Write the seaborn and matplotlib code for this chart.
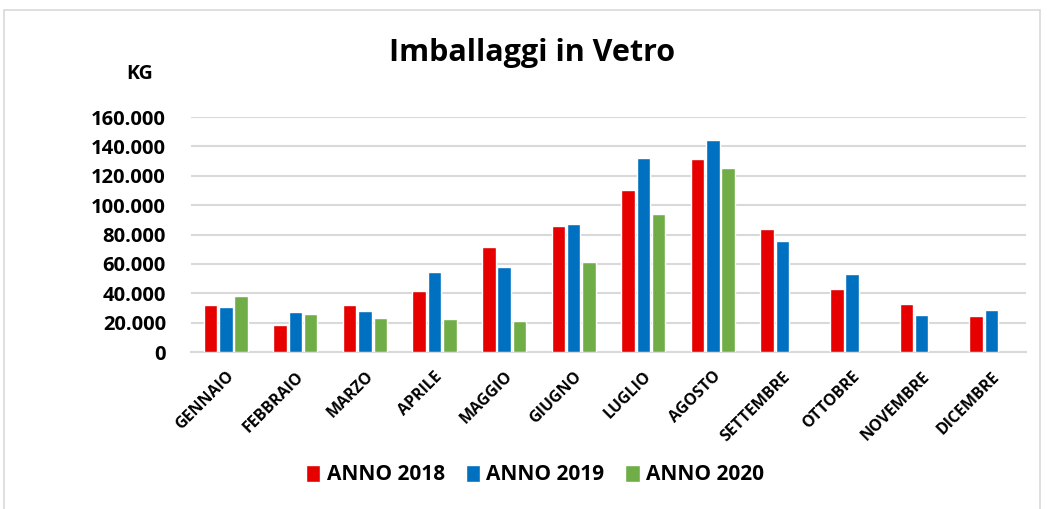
import numpy as np
import pandas as pd
import matplotlib
matplotlib.use("Agg")
import matplotlib.pyplot as plt
from matplotlib.patches import Rectangle
import seaborn as sns

# Dati (kg)
mesi = ["GENNAIO", "FEBBRAIO", "MARZO", "APRILE", "MAGGIO", "GIUGNO",
        "LUGLIO", "AGOSTO", "SETTEMBRE", "OTTOBRE", "NOVEMBRE", "DICEMBRE"]
anno_2018 = [31800, 18400, 32200, 41500, 71500, 85700,
             110200, 131100, 83600, 43200, 33000, 24300]
anno_2019 = [30600, 27500, 27900, 54700, 58100, 87000,
             132300, 144500, 75500, 53000, 25500, 28900]
anno_2020 = [38100, 25900, 23100, 22500, 21300, 61400,
             94300, 125000, np.nan, np.nan, np.nan, np.nan]
serie = ["ANNO 2018", "ANNO 2019", "ANNO 2020"]
colori = ["#E60000", "#0070C0", "#70AD47"]
y_ticks = [0, 20000, 40000, 60000, 80000, 100000, 120000, 140000, 160000]

df = pd.DataFrame({"Mese": mesi, serie[0]: anno_2018,
                   serie[1]: anno_2019, serie[2]: anno_2020})
df = df.melt(id_vars="Mese", var_name="Anno", value_name="KG")

sns.set_theme(style="white")
plt.rcParams["font.family"] = ["Open Sans", "DejaVu Sans"]
plt.rcParams["text.color"] = "black"
plt.rcParams["xtick.color"] = "black"
plt.rcParams["ytick.color"] = "black"

fig = plt.figure(figsize=(10.47, 5.09), dpi=100)
ax = fig.add_axes([0.1824, 0.3084, 0.7976, 0.4617])

sns.barplot(data=df, x="Mese", y="KG", hue="Anno", order=mesi,
            hue_order=serie, palette=colori, width=0.66, gap=0.12,
            saturation=1, errorbar=None, ax=ax, zorder=3)

ax.set_ylim(0, 160000)
ax.set_xlim(-0.5, len(mesi) - 0.5)
ax.set_yticks(y_ticks)
ax.set_yticklabels([f"{v:,}".replace(",", ".") for v in y_ticks],
                   fontsize=14.5, fontweight="bold")
ax.set_xticks(range(len(mesi)))
ax.set_xticklabels(mesi, rotation=45, ha="right", rotation_mode="anchor",
                   fontsize=11.5, fontweight="bold")
ax.tick_params(axis="y", length=0, pad=18)
ax.tick_params(axis="x", length=0, pad=12)
ax.set_xlabel("")
ax.set_ylabel("")
ax.yaxis.grid(True, color="#D9D9D9", linewidth=1.5, zorder=0)
for s in ["top", "right", "left"]:
    ax.spines[s].set_visible(False)
ax.spines["bottom"].set_color("#D9D9D9")
ax.spines["bottom"].set_linewidth(1.5)

ax.legend(loc="center", bbox_to_anchor=(0.412, -0.523), ncol=3,
          frameon=False, prop={"weight": "bold", "size": 15},
          handlelength=0.7, handleheight=0.9, handletextpad=0.3,
          columnspacing=1.0)

fig.text(0.508, 0.895, "Imballaggi in Vetro", ha="center", va="center",
         fontsize=22, fontweight="bold")
fig.text(0.133, 0.855, "KG", ha="center", va="center",
         fontsize=14, fontweight="bold")

fig.patches.append(Rectangle((0.004, -0.01), 0.989, 0.99,
                             transform=fig.transFigure, fill=False,
                             edgecolor="#D9D9D9", linewidth=1.2))

fig.savefig("out.png", dpi=100, facecolor="white")
